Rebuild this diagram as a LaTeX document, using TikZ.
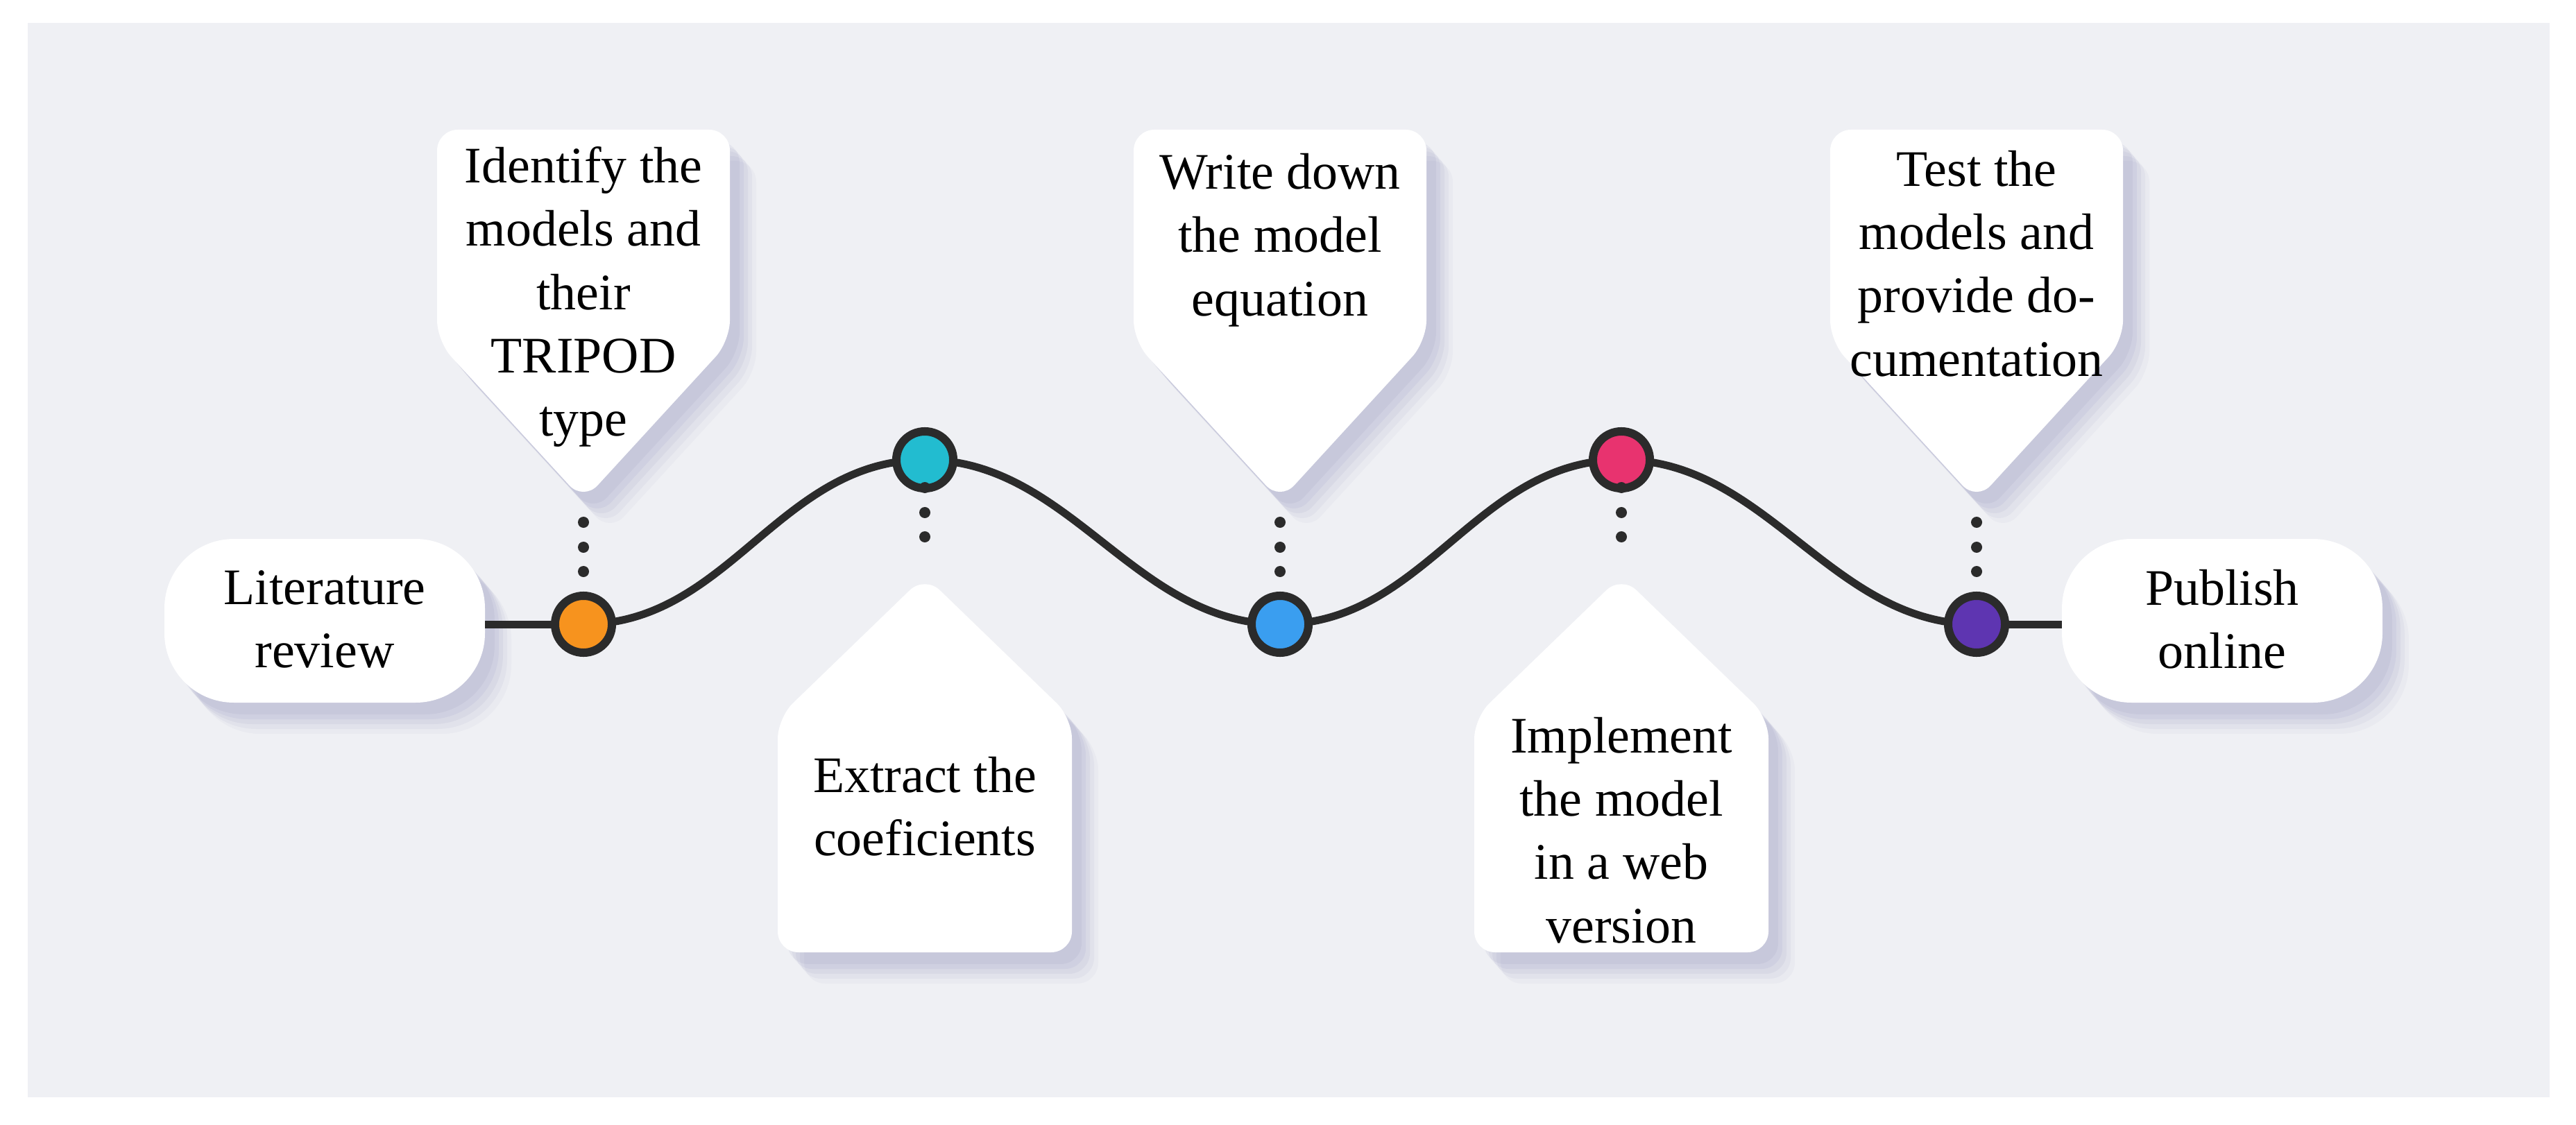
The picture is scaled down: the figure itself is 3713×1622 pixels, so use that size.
\documentclass[tikz,border=0pt]{standalone}
\usepackage{fontspec}
\setmainfont{Liberation Serif}
\usetikzlibrary{calc}
\definecolor{bg}{HTML}{EFF0F4}
\definecolor{ink}{HTML}{2B2B2B}
\definecolor{cOr}{HTML}{F7931E}
\definecolor{cTe}{HTML}{22BCD0}
\definecolor{cBl}{HTML}{3A9EF0}
\definecolor{cPi}{HTML}{E8336F}
\definecolor{cPu}{HTML}{5E35B1}
\pgfdeclarelayer{back}
\pgfdeclarelayer{wires}
\pgfsetlayers{back,wires,main}
\tikzset{
  txt/.style={align=center,font=\fontsize{21}{26}\selectfont,inner sep=0pt},
  dot/.style={circle,fill=ink,minimum size=0.16cm,inner sep=0pt},
  stage/.style={circle,draw=ink,line width=0.12cm,minimum size=0.82cm,inner sep=0pt,fill=#1},
  wire/.style={draw=ink,line width=0.11cm},
}
\newcommand{\shadowed}[2]{%
  \foreach \k/\o in {1/0.045,2/0.04,3/0.035,4/0.03,5/0.025}{%
    \fill[black!60!blue,opacity=\o,rounded corners=#1 cm] [shift={(8+6*\k,10+7*\k)}] #2;}%
  \fill[white,rounded corners=#1 cm] #2;}
\begin{document}
\begin{tikzpicture}[x=0.01cm,y=-0.01cm]
\useasboundingbox (0,0) rectangle (3713,1622);
\begin{pgfonlayer}{back}
\fill[white] (0,0) rectangle (3713,1622);
\fill[bg] (40,33) rectangle (3675,1582);
\shadowed{1.0}{(237,777) rectangle (699,1013)}
\shadowed{1.0}{(2972,777) rectangle (3434,1013)}
\foreach \cx in {841,1845,2849}{
  \shadowed{0.3}{({\cx-211},187) -- ({\cx+211},187) -- ({\cx+211},492) -- (\cx,722) -- ({\cx-211},492) -- cycle}
}
\foreach \cx in {1333,2337}{
  \shadowed{0.3}{(\cx,830) -- ({\cx+212},1035) -- ({\cx+212},1373) -- ({\cx-212},1373) -- ({\cx-212},1035) -- cycle}
}
\end{pgfonlayer}
\node[stage=cOr] (s1) at (841,900) {};
\node[stage=cTe] (s2) at (1333,663) {};
\node[stage=cBl] (s3) at (1845,900) {};
\node[stage=cPi] (s4) at (2337,663) {};
\node[stage=cPu] (s5) at (2849,900) {};
\node[txt] (lit) at (468,893) {Literature\\review};
\node[txt] (pub) at (3203,893) {Publish\\online};
\node[txt] (t1) at (841,428) {Identify the\\models and\\their\\TRIPOD\\type};
\node[txt] (t2) at (1333,1163) {Extract the\\coeficients};
\node[txt] (t3) at (1845,346) {Write down\\the model\\equation};
\node[txt] (t4) at (2337,1197) {Implement\\the model\\in a web\\version};
\node[txt] (t5) at (2849,380) {Test the\\models and\\provide do-\\cumentation};
\coordinate (la) at (699,900);
\coordinate (pa) at (2972,900);
\begin{pgfonlayer}{wires}
\draw[wire] (la) -- (s1.center);
\draw[wire] (s5.center) -- (pa);
\draw[wire] (s1.center) .. controls ($(s1)+(210,0)$) and ($(s2)+(-210,0)$) .. (s2.center);
\draw[wire] (s2.center) .. controls ($(s2)+(210,0)$) and ($(s3)+(-210,0)$) .. (s3.center);
\draw[wire] (s3.center) .. controls ($(s3)+(210,0)$) and ($(s4)+(-210,0)$) .. (s4.center);
\draw[wire] (s4.center) .. controls ($(s4)+(210,0)$) and ($(s5)+(-210,0)$) .. (s5.center);
\end{pgfonlayer}
\foreach \cx/\n in {841/a,1845/b,2849/c}{
  \foreach \y [count=\i] in {753,789,824} \node[dot] (d\n\i) at (\cx,\y) {};
}
\foreach \cx/\n in {1333/d,2337/e}{
  \foreach \y [count=\i] in {703,739,774} \node[dot] (d\n\i) at (\cx,\y) {};
}
\end{tikzpicture}
\end{document}
